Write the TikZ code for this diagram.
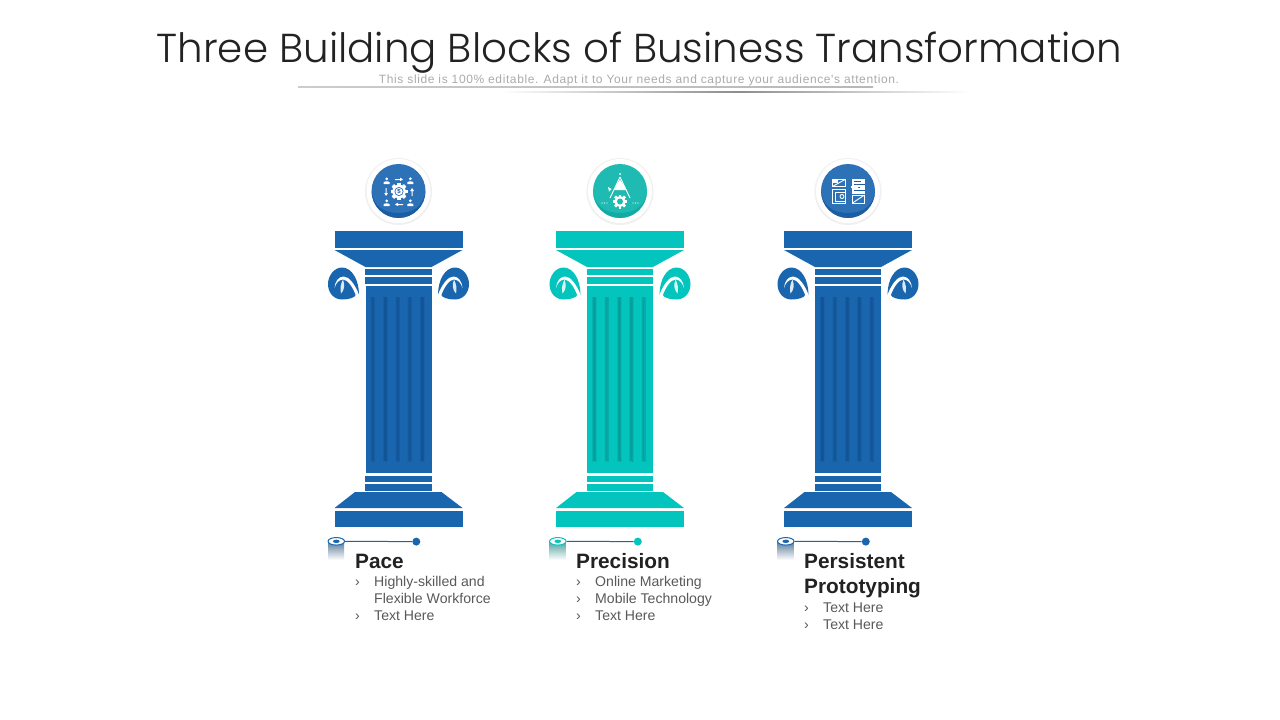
\documentclass[tikz,border=0pt]{standalone}
\usepackage{fontspec}
\setmainfont{Liberation Sans}
\newfontfamily\titlefont{Poppins Light}
\newfontfamily\subfont[LetterSpace=5.1]{Liberation Sans}
\usetikzlibrary{calc,shapes.geometric}
\definecolor{pblue}{HTML}{1A66AE}
\definecolor{pteal}{HTML}{03C5BD}
\definecolor{dblue}{HTML}{125596}
\definecolor{dteal}{HTML}{06A09E}
\definecolor{iblue}{HTML}{2D71B6}
\definecolor{iblued}{HTML}{1C5CA3}
\definecolor{iteal}{HTML}{1FBBB2}
\definecolor{iteald}{HTML}{10ABA4}
\definecolor{headc}{HTML}{222222}
\definecolor{bodyc}{HTML}{595959}
\tikzset{
  titletext/.style={anchor=base,inner sep=0,text=headc,font=\titlefont\fontsize{40.4}{48}\selectfont},
  subtext/.style={anchor=base,inner sep=0,text=black!33,font=\subfont\fontsize{12}{14}\selectfont},
  headtext/.style={anchor=base west,inner sep=0,text=headc,font=\bfseries\fontsize{20.8}{24}\selectfont},
  bodytext/.style={anchor=base west,inner sep=0,text=bodyc,font=\fontsize{14.1}{17}\selectfont},
  capnode/.style={ellipse,minimum width=16.5pt,minimum height=7.5pt,inner sep=0,fill=white,line width=1pt},
  dotnode/.style={circle,minimum size=8pt,inner sep=0},
  iconl/.style={draw=white,line width=.9pt},
}
% volute in the coordinates of the first pillar; the scope moves it onto the axis
\newcommand{\volute}[1]{%
  \begin{scope}[shift={(-398.5,0)}]
  \fill[#1] (359,295) .. controls (359,280) and (352,267.5) .. (342,267.5)
     .. controls (334,267.5) and (328,276) .. (328,284)
     .. controls (328,293) and (334,299.5) .. (342,299.5)
     .. controls (350,299.5) and (355.5,297) .. (355.5,295) -- cycle;
  \fill[white] (334.5,288) .. controls (335,281) and (339,276.5) .. (343.5,276.5)
     .. controls (349,276.5) and (355,284) .. (359.5,296)
     -- (356,296)
     .. controls (353,287) and (347.5,279.5) .. (343,279.5)
     .. controls (339,279.5) and (336,283) .. (334.5,288) -- cycle;
  \fill[#1!15!white] (343,279.5) .. controls (345,285) and (344.5,290) .. (341,293.5)
     .. controls (340,289) and (340.5,284) .. (343,279.5) -- cycle;
  \end{scope}
}
\newcommand{\person}[2]{%
  \fill[white] (#1,#2-2.2) circle (1.5);
  \fill[white] (#1-3,#2+3) -- (#1-3,#2+1.4) .. controls (#1-3,#2) and (#1+3,#2) .. (#1+3,#2+1.4) -- (#1+3,#2+3) -- cycle;
}
\newcommand{\gearicon}[3]{%
  \foreach \a in {0,45,...,315}{
    \fill[white,rotate around={\a:(#1,#2)}] (#1-#3*.2,#2-#3) rectangle (#1+#3*.2,#2+#3);
  }
  \fill[white] (#1,#2) circle (#3*.8);
}
% disc with a darker lower rim
\newcommand{\icondisc}[3]{%
  \fill[#3] (#1,191) circle (27);
  \fill[#2] (#1-26.9,191) .. controls (#1-25.5,206) and (#1-15,213) .. (#1,213)
     .. controls (#1+15,213) and (#1+25.5,206) .. (#1+26.9,191)
     arc[start angle=0,end angle=180,radius=26.9];
}
\begin{document}
\begin{tikzpicture}[x=1pt,y=-1pt]
\useasboundingbox (0,0) rectangle (1280,720);
\fill[white] (0,0) rectangle (1280,720);
% header
\node[titletext] (ttl) at (639.5,62) {Three Building Blocks of Business Transformation};
\node[subtext] (sub) at (639,83) {This slide is 100\% editable. Adapt it to Your needs and capture your audience's attention.};
\shade[left color=black!20,right color=black!28] (298,86.2) rectangle (873,87.8);
\shade[left color=white,right color=black!45] (500,91) rectangle (738,92.5);
\shade[left color=black!45,right color=white] (738,91) rectangle (970,92.5);
% pillars
\foreach \k/\cx/\c/\d in {a/398.5/pblue/dblue,b/620/pteal/dteal,c/848/pblue/dblue}{
\begin{scope}[shift={(\cx,0)}]
  \fill[black!6] (0,191.5) circle (33.5);
  \fill[white] (0,191) circle (32);
  \fill[\c] (-64,231) rectangle (64,248);
  \fill[\c] (-64,250) -- (64,250) -- (33,267) -- (-33,267) -- cycle;
  \fill[\c] (-33.5,268.5) rectangle (33,275);
  \fill[\c] (-33.5,277) rectangle (33,283.5);
  \fill[\c] (-33,285.5) rectangle (33,473);
  \foreach \f in {-26,-13.5,-1,11,23.5}{
    \shade[left color=\c,right color=\d] (\f-3,297) rectangle (\f-.8,461);
    \fill[\d] (\f-.8,297) rectangle (\f+.8,461);
    \shade[left color=\d,right color=\c] (\f+.8,297) rectangle (\f+2.6,461);
  }
  \fill[\c] (-33.5,476) rectangle (33,482);
  \fill[\c] (-33.5,484) rectangle (33,491);
  \fill[\c] (-43.5,492) -- (43,492) -- (64,508) -- (-64,508) -- cycle;
  \fill[\c] (-64,510.5) rectangle (64,527);
  \volute{\c}
  \begin{scope}[xscale=-1]\volute{\c}\end{scope}
  % marker
  \shade[top color=\c!60!black!70!white,bottom color=white] (-70.5,541) rectangle (-54.5,560);
  \node[capnode,draw=\c] (cap\k) at (-62.2,541.3) {};
  \fill[\c] (-62.2,541.3) ellipse (3.4 and 1.7);
  \node[dotnode,fill=\c] (dot\k) at (17.8,541.6) {};
  \draw[pblue,line width=1pt] (cap\k) -- (dot\k);
\end{scope}
}
% icon discs
\icondisc{398.5}{iblued}{iblue}
\icondisc{620}{iteald}{iteal}
\icondisc{848}{iblued}{iblue}
% icon 1
\gearicon{399}{191.5}{8.5}
\fill[iblue] (399,191.5) circle (4.5);
\fill[white] (399,191.5) circle (3.6);
\node[inner sep=0,text=iblued,font=\bfseries\fontsize{6}{6}\selectfont] (dollar) at (399,191.5) {\$};
\person{386.7}{181}\person{410.3}{181}\person{386.7}{203}\person{410.3}{203}
\fill[white] (395,179) -- (400,179) -- (400,177.6) -- (403,179.5) -- (400,181) -- (400,180) -- (395,180) -- cycle;
\fill[white] (403,204) -- (398,204) -- (398,202.6) -- (395,204.5) -- (398,206) -- (398,205) -- (403,205) -- cycle;
\fill[white] (385.5,188) -- (386.5,188) -- (386.5,193) -- (388,193) -- (386,196) -- (384.2,193) -- (385.5,193) -- cycle;
\fill[white] (411.5,196) -- (412.5,196) -- (412.5,191) -- (414,191) -- (412,188) -- (410.2,191) -- (411.5,191) -- cycle;
% icon 2
\fill[white] (620,174) circle (1);
\fill[white] (620,179.5) -- (626.5,190) -- (613.5,190) -- cycle;
\draw[iconl] (620,177) -- (610,198);
\draw[iconl] (620,177) -- (630,198);
\fill[white] (608,187) -- (611.5,189) -- (609,191.5) -- cycle;
\gearicon{620}{201.5}{7}
\fill[iteal] (620,201.5) circle (3);
\foreach \x in {602,604.5,607,633,635.5,638}{\fill[white] (\x,203) circle (.6);}
% icon 3
\draw[iconl] (832.5,179.5) rectangle (845,186.5);
\draw[iconl] (832.5,186.5) -- (845,179.5);
\fill[white] (832,179) rectangle (838,183);
\draw[iconl] (832.5,189) rectangle (845,203);
\draw[iconl] (835,192) rectangle (845,201);
\draw[iconl] (842,196.5) circle (2);
\fill[white] (852,179) rectangle (864.5,193.5);
\foreach \y/\w in {181/7,184/11,187.5/6,190.5/11}{\draw[iblued,line width=.8pt] (853.5,\y) -- ++(\w,0);}
\fill[white] (851,186) -- (856,186) -- (856,184.5) -- (858.5,187) -- (856,189.5) -- (856,188) -- (851,188) -- cycle;
\draw[iconl] (852.5,195) rectangle (864.5,203);
\draw[iconl] (852.5,203) -- (864.5,195);
% texts
\node[headtext] (h1) at (355,568) {Pace};
\foreach \n/\x/\y/\t in {m1/355/586/›,m2/355/620/›,m3/576/586/›,m4/576/603/›,m5/576/620/›,m6/804/612/›,m7/804/629/›}{
  \node[bodytext] (\n) at (\x,\y) {\t};
}
\node[bodytext] (t1) at (374,586) {Highly-skilled and};
\node[bodytext] (t2) at (374,603) {Flexible Workforce};
\node[bodytext] (t3) at (374,620) {Text Here};
\node[headtext] (h2) at (576,568) {Precision};
\node[bodytext] (t4) at (595,586) {Online Marketing};
\node[bodytext] (t5) at (595,603) {Mobile Technology};
\node[bodytext] (t6) at (595,620) {Text Here};
\node[headtext] (h3) at (804,568) {Persistent};
\node[headtext] (h4) at (804,593) {Prototyping};
\node[bodytext] (t7) at (823,612) {Text Here};
\node[bodytext] (t8) at (823,629) {Text Here};
\end{tikzpicture}
\end{document}
